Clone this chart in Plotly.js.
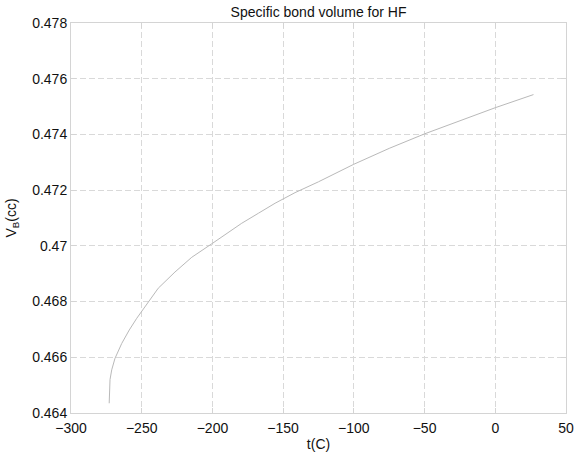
<!DOCTYPE html>
<html>
<head>
<meta charset="utf-8">
<script src="https://cdn.plot.ly/plotly-3.0.1.min.js"></script>
<style>
  html, body { margin:0; padding:0; background:#fff; }
  #chart { width:575px; height:454px; }
</style>
</head>
<body>
<div id="chart"></div>
<script>
// temperature in C and bond volume
const tempC = [-273, -272.4, -271.2, -268.9, -264.1, -258.8, -253.5, -244.1, -238.3, -226.5, -214.6, -200,
               -191.1, -179.3, -167.5, -155.7, -141.6, -125, -100, -75, -50, -25, 0, 27];
const volB  = [0.46435, 0.4652, 0.46555, 0.46596, 0.4665, 0.46698, 0.4674, 0.46806, 0.46848, 0.46906, 0.46959, 0.47009,
               0.47039, 0.47081, 0.47117, 0.47153, 0.47191, 0.4723, 0.47293, 0.4735, 0.47402, 0.4745, 0.47496, 0.47543];

const xTicks = [-300, -250, -200, -150, -100, -50, 0, 50];
const yTicks = [0.464, 0.466, 0.468, 0.47, 0.472, 0.474, 0.476, 0.478];
const yTickText = ['0.464', '0.466', '0.468', '0.47', '0.472', '0.474', '0.476', '0.478'];

const font = 'Liberation Sans, Arial, Helvetica, sans-serif';
const axisGrey = '#d4d4d4';

const trace = {
  x: tempC, y: volB,
  type: 'scatter', mode: 'lines',
  line: {color:'#b9b9b9', width:1},
  hoverinfo: 'skip'
};

const axisCommon = {
  showline: true, linecolor: axisGrey, linewidth: 1, mirror: 'ticks',
  ticks: 'inside', ticklen: 5, tickcolor: axisGrey,
  showgrid: true, gridcolor: '#d9d9d9', gridwidth: 1, griddash: '6px,3px',
  zeroline: false,
  tickfont: {family: font, size: 14, color: '#111'}
};

const layout = {
  width: 575, height: 454,
  margin: {l:71, r:9, t:23, b:41},
  paper_bgcolor: '#fff', plot_bgcolor: '#fff',
  showlegend: false,
  title: {text: 'Specific bond volume for HF', font: {family: font, size: 14, color: '#111'},
          x: 0.554, xanchor: 'center', y: 0.985, yanchor: 'top', yref: 'container'},
  xaxis: Object.assign({}, axisCommon, {
    range: [-300, 50], tickvals: xTicks, ticklabelstandoff: 2,
    title: {text: 't(C)', font: {family: font, size: 14, color: '#111'}, standoff: 4}
  }),
  yaxis: Object.assign({}, axisCommon, {
    range: [0.464, 0.478], tickvals: yTicks, ticktext: yTickText,
    title: {text: 'V<sub>B</sub>(cc)', font: {family: font, size: 14, color: '#111'}, standoff: 12}
  })
};

Plotly.newPlot('chart', [trace], layout, {staticPlot: true, displayModeBar: false});
</script>
</body>
</html>
